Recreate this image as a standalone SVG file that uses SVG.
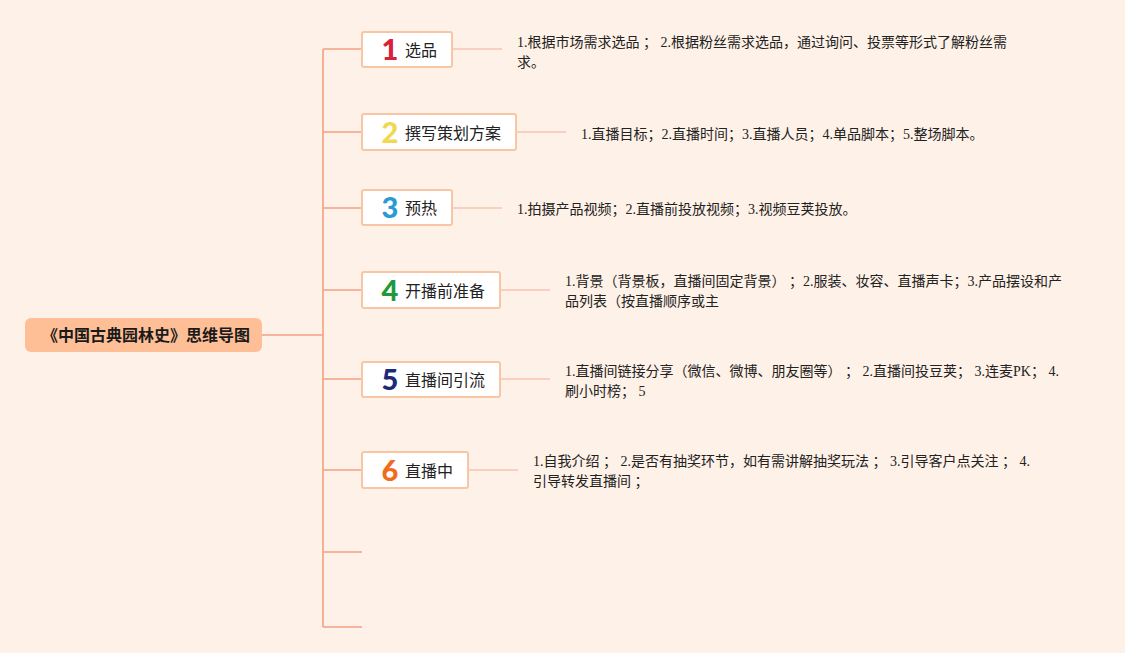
<svg xmlns="http://www.w3.org/2000/svg" width="1125" height="653" viewBox="0 0 1125 653">
<style>
.bg{fill:#fef1e7}
.trunk{stroke:#f4a084;stroke-width:1.6;fill:none}
.leafline{stroke:#f5ae98;stroke-width:1.2;fill:none}
.node{fill:#ffffff;stroke:#f8c6a4;stroke-width:2}
.lbl{font-family:"Noto Sans CJK SC","Noto Sans",sans-serif;font-size:16px;fill:#222}
.num{font-family:"Lato","Open Sans",sans-serif;font-weight:900;font-size:29px;text-anchor:middle}
.desc{font-family:"Liberation Serif","Noto Sans CJK SC",serif;font-size:14px;fill:#222}
.root{font-family:"Noto Sans CJK SC",sans-serif;font-weight:bold;font-size:16px;fill:#1a1a1a;text-anchor:middle}
</style>
<rect class="bg" x="0" y="0" width="1125" height="653"/>
<g id="connectors">
<path class="trunk" d="M262 335 H323 M323 49 V627 M323 49 H362 M323 132 H362 M323 208 H362 M323 290 H362 M323 379 H362 M323 470 H362 M323 552 H362 M323 627 H362"/>
<path class="leafline" d="M452 49 H502 M516 132 H566 M452 208 H502 M500 290 H550 M500 379 H550 M468 470 H518"/>
</g>
<g id="root">
<rect x="25" y="318" width="237" height="34" rx="6" fill="#ffbf96"/>
<text class="root" x="146" y="341">《中国古典园林史》思维导图</text>
</g>
<g id="n1">
<rect class="node" x="362" y="32" width="90" height="35" rx="2"/>
<text class="num" x="390" y="60" fill="#d8223a">1</text>
<text class="lbl" x="405" y="56">选品</text>
<text class="desc" x="517" y="47">1.根据市场需求选品 ； 2.根据粉丝需求选品，通过询问、投票等形式了解粉丝需</text>
<text class="desc" x="517" y="67">求。</text>
</g>
<g id="n2">
<rect class="node" x="362" y="114" width="154" height="36" rx="2"/>
<text class="num" x="390" y="143" fill="#f2d84f">2</text>
<text class="lbl" x="405" y="139">撰写策划方案</text>
<text class="desc" x="581" y="139">1.直播目标；2.直播时间；3.直播人员；4.单品脚本；5.整场脚本。</text>
</g>
<g id="n3">
<rect class="node" x="362" y="190" width="90" height="35" rx="2"/>
<text class="num" x="390" y="218" fill="#2a9ad6">3</text>
<text class="lbl" x="405" y="214">预热</text>
<text class="desc" x="517" y="214">1.拍摄产品视频；2.直播前投放视频；3.视频豆荚投放。</text>
</g>
<g id="n4">
<rect class="node" x="362" y="272" width="138" height="36" rx="2"/>
<text class="num" x="390" y="301" fill="#1f9a3a">4</text>
<text class="lbl" x="405" y="297">开播前准备</text>
<text class="desc" x="565" y="286">1.背景（背景板，直播间固定背景） ；2.服装、妆容、直播声卡；3.产品摆设和产</text>
<text class="desc" x="565" y="306">品列表（按直播顺序或主</text>
</g>
<g id="n5">
<rect class="node" x="362" y="362" width="138" height="35" rx="2"/>
<text class="num" x="390" y="390" fill="#1d2a78">5</text>
<text class="lbl" x="405" y="386">直播间引流</text>
<text class="desc" x="565" y="376">1.直播间链接分享（微信、微博、朋友圈等） ； 2.直播间投豆荚； 3.连麦PK； 4.</text>
<text class="desc" x="565" y="396">刷小时榜； 5</text>
</g>
<g id="n6">
<rect class="node" x="362" y="452" width="106" height="36" rx="2"/>
<text class="num" x="390" y="481" fill="#f26a1c">6</text>
<text class="lbl" x="405" y="477">直播中</text>
<text class="desc" x="533" y="466">1.自我介绍 ； 2.是否有抽奖环节，如有需讲解抽奖玩法 ； 3.引导客户点关注 ； 4.</text>
<text class="desc" x="533" y="486">引导转发直播间 ；</text>
</g>
</svg>
